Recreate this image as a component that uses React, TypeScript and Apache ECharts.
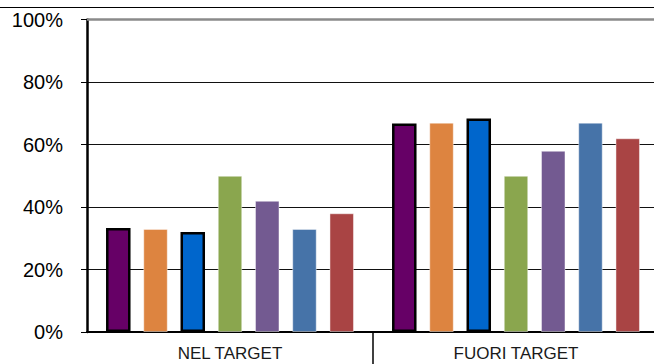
import React, { useEffect, useRef } from "react";
import * as echarts from "echarts";

// Categories on the x axis and the percentage per series
const categories = ["NEL TARGET", "FUORI TARGET"];
const seriesNames = ["A", "B", "C", "D", "E", "F", "G"];
const seriesValues = [
  [33.3, 66.7],
  [33, 67],
  [32, 68.3],
  [50, 50],
  [42, 58],
  [33, 67],
  [38, 62],
];
const seriesColors = ["#660066", "#DD8440", "#0066CC", "#8AA64E", "#735A91", "#4673A8", "#A94444"];
const outlined = [true, false, true, false, false, false, false];
const yTicks = { min: 0, max: 100, interval: 20 };

export default function App() {
  const ref = useRef<HTMLDivElement>(null);

  useEffect(() => {
    if (!ref.current) return;
    const chart = echarts.init(ref.current, null, { renderer: "svg" });

    const series = seriesNames.map((name, i) => ({
      name,
      type: "bar" as const,
      data: seriesValues[i],
      barWidth: 24.5,
      barGap: "52%",
      itemStyle: {
        color: seriesColors[i],
        borderColor: outlined[i] ? "#000" : "rgba(255,255,255,0.45)",
        borderWidth: outlined[i] ? 2.5 : 1,
      },
      ...(i === 0
        ? {
            markLine: {
              silent: true,
              symbol: "none",
              label: { show: false },
              lineStyle: { color: "#8a8a8a", width: 2.5, type: "solid" as const },
              data: [{ yAxis: yTicks.max }],
            },
          }
        : {}),
    }));

    chart.setOption({
      animation: false,
      backgroundColor: "#fff",
      grid: { left: 87, right: 5, top: 19.5, bottom: 32, containLabel: false },
      xAxis: {
        type: "category",
        data: categories,
        axisLine: { show: true, lineStyle: { color: "#000", width: 2 } },
        axisTick: { show: false },
        axisLabel: {
          color: "#1a1a1a",
          fontSize: 17,
          fontFamily: "Liberation Sans, Arial, sans-serif",
          margin: 13,
        },
        splitLine: { show: false },
      },
      yAxis: {
        type: "value",
        min: yTicks.min,
        max: yTicks.max,
        interval: yTicks.interval,
        axisLine: { show: true, lineStyle: { color: "#000", width: 2.5 } },
        axisTick: { show: true, length: 6, lineStyle: { color: "#000", width: 1 } },
        axisLabel: {
          formatter: "{value}%",
          color: "#000",
          fontSize: 20,
          fontFamily: "Liberation Sans, Arial, sans-serif",
          margin: 24,
        },
        splitLine: { show: true, lineStyle: { color: "#111", width: 1 } },
      },
      series,
    });

    // Frame line across the top, and the separator between the two categories
    const c0 = chart.convertToPixel({ xAxisIndex: 0 }, categories[0]) as number;
    const c1 = chart.convertToPixel({ xAxisIndex: 0 }, categories[1]) as number;
    const y0 = chart.convertToPixel({ yAxisIndex: 0 }, 0) as number;
    const sepX = (c0 + c1) / 2;
    chart.setOption({
      graphic: [
        {
          type: "line",
          shape: { x1: 0, y1: 7.5, x2: 654, y2: 7.5 },
          style: { stroke: "#000", lineWidth: 1.2 },
        },
        {
          type: "line",
          shape: { x1: sepX, y1: y0, x2: sepX, y2: 364 },
          style: { stroke: "#000", lineWidth: 1.5 },
        },
      ],
    });

    return () => chart.dispose();
  }, []);

  return (
    <div style={{ position: "absolute", left: 0, top: 0, width: 654, height: 364, overflow: "hidden" }}>
      <div ref={ref} style={{ width: 664, height: 364 }} />
    </div>
  );
}
